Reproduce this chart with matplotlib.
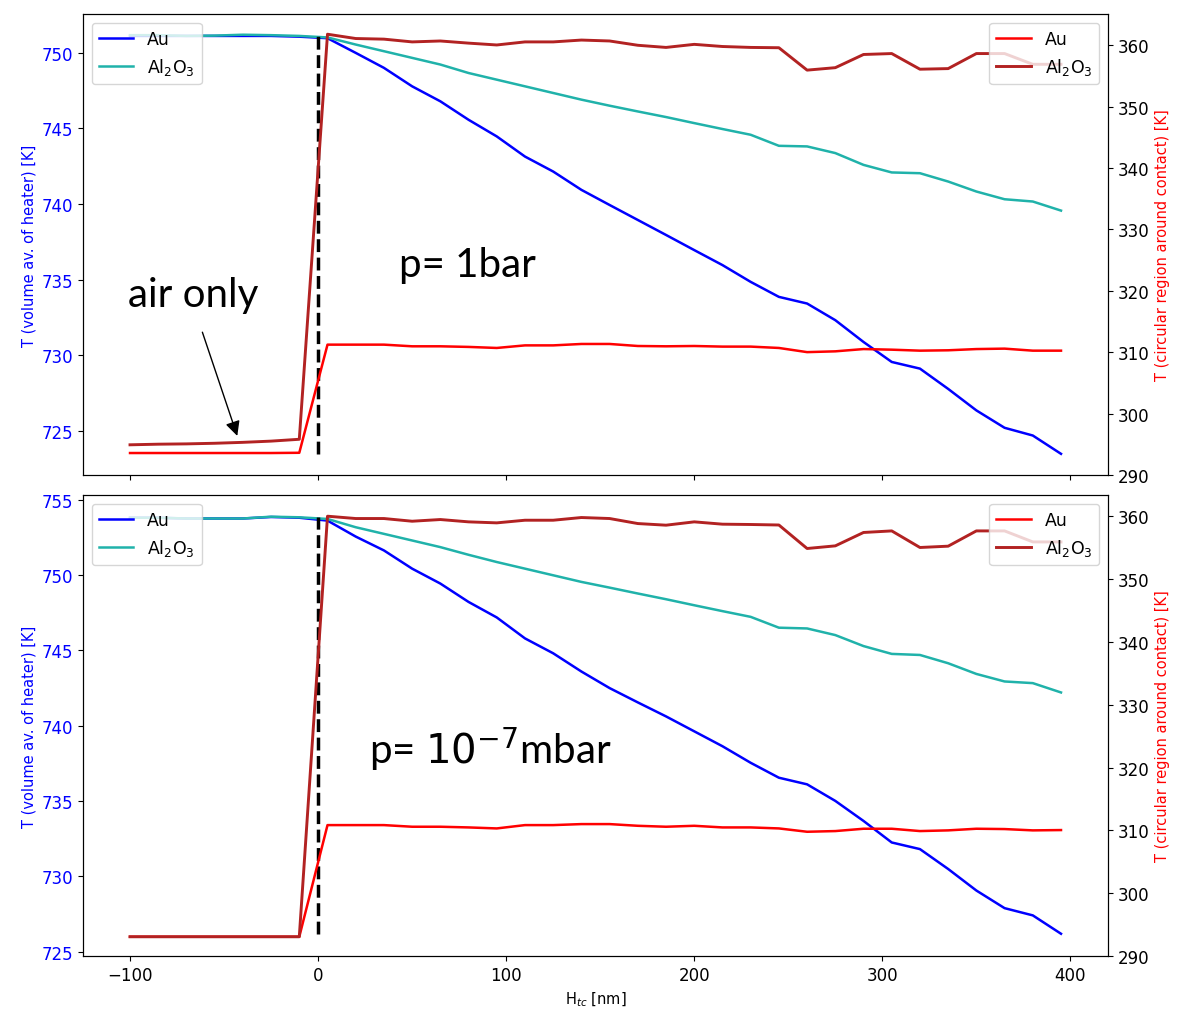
import numpy as np
import matplotlib
matplotlib.use('Agg')
import matplotlib.pyplot as plt

# x positions (nm), spacing 15
h_tc = np.arange(-100, 400, 15)

# ---- p = 1 bar ----
au_heater_1bar = [751.1, 751.1, 751.1, 751.1, 751.1, 751.1, 751.05,
                  750.95, 749.98, 748.99, 747.77, 746.78, 745.56, 744.46, 743.13, 742.14,
                  740.93, 739.93, 738.94, 737.95, 736.95, 735.96, 734.85, 733.86, 733.42,
                  732.32, 730.88, 729.56, 729.12, 727.78, 726.36, 725.21, 724.70, 723.49]
al_heater_1bar = [751.15, 751.15, 751.1, 751.12, 751.18, 751.15, 751.1,
                  751.0, 750.53, 750.09, 749.65, 749.21, 748.65, 748.21, 747.77, 747.33,
                  746.89, 746.49, 746.11, 745.74, 745.34, 744.95, 744.57, 743.84, 743.80,
                  743.36, 742.58, 742.08, 742.03, 741.48, 740.82, 740.31, 740.16, 739.56]
au_contact_1bar = [293.56, 293.56, 293.56, 293.56, 293.56, 293.56, 293.6,
                   311.22, 311.22, 311.22, 310.95, 310.95, 310.85, 310.68, 311.1, 311.1,
                   311.33, 311.33, 311.0, 310.95, 311.0, 310.9, 310.9, 310.68, 310.0,
                   310.13, 310.5, 310.4, 310.24, 310.3, 310.5, 310.57, 310.24, 310.24]
al_contact_1bar = [294.9, 295.0, 295.05, 295.15, 295.3, 295.5, 295.8,
                   361.8, 361.1, 361.0, 360.55, 360.7, 360.35, 360.05, 360.55, 360.55,
                   360.85, 360.7, 360.0, 359.65, 360.15, 359.8, 359.65, 359.6, 355.95,
                   356.35, 358.5, 358.65, 356.1, 356.2, 358.65, 358.65, 356.9, 356.9]

# ---- p = 1e-7 mbar ----
au_heater_vac = [753.8, 753.8, 753.75, 753.75, 753.75, 753.85, 753.8,
                 753.61, 752.55, 751.63, 750.42, 749.43, 748.21, 747.18, 745.79, 744.80,
                 743.59, 742.49, 741.54, 740.61, 739.62, 738.63, 737.53, 736.54, 736.10,
                 735.00, 733.67, 732.24, 731.80, 730.48, 729.05, 727.88, 727.40, 726.18]
al_heater_vac = [753.8, 753.8, 753.75, 753.75, 753.75, 753.87, 753.83,
                 753.72, 753.17, 752.73, 752.29, 751.85, 751.34, 750.86, 750.42, 749.98,
                 749.54, 749.16, 748.77, 748.39, 747.99, 747.60, 747.22, 746.50, 746.45,
                 746.01, 745.28, 744.76, 744.69, 744.14, 743.43, 742.93, 742.82, 742.20]
au_contact_vac = [293.07, 293.07, 293.07, 293.07, 293.07, 293.07, 293.07,
                  310.84, 310.84, 310.84, 310.58, 310.58, 310.47, 310.31, 310.84, 310.84,
                  311.0, 311.0, 310.73, 310.58, 310.73, 310.47, 310.47, 310.31, 309.78,
                  309.89, 310.26, 310.26, 309.89, 310.0, 310.26, 310.21, 310.0, 310.05]
al_contact_vac = [293.07, 293.07, 293.07, 293.07, 293.07, 293.07, 293.07,
                  360.0, 359.63, 359.63, 359.2, 359.47, 359.1, 358.94, 359.36, 359.36,
                  359.79, 359.63, 358.83, 358.57, 359.1, 358.73, 358.68, 358.6, 354.86,
                  355.28, 357.41, 357.66, 355.02, 355.23, 357.66, 357.66, 355.91, 355.9]

panels = [
    (au_heater_1bar, al_heater_1bar, au_contact_1bar, al_contact_1bar,
     (722.1, 752.55), (290.0, 365.1), 'p= 1bar', (43, 736.0)),
    (au_heater_vac, al_heater_vac, au_contact_vac, al_contact_vac,
     (724.7, 755.3), (290.0, 363.35), 'p= $10^{-7}$mbar', (27, 738.5)),
]

fig, axes = plt.subplots(2, 1, figsize=(11.79, 10.12), dpi=100, sharex=True)
plt.subplots_adjust(left=0.0704, right=0.9398, top=0.9852, bottom=0.0543, hspace=0.044)

fs = 12
lab_fs = 10.5
for ax, (au_h, al_h, au_c, al_c, ylim1, ylim2, ptxt, ppos) in zip(axes, panels):
    ax.plot(h_tc, au_h, color='blue', lw=1.8, label='Au')
    ax.plot(h_tc, al_h, color='lightseagreen', lw=1.8, label='Al$_2$O$_3$')
    ax.vlines(0, min(au_h), max(au_h), colors='k', linestyles='dashed', lw=2.5)
    ax.set_ylim(*ylim1)
    ax.set_ylabel('T (volume av. of heater) [K]', color='blue', fontsize=lab_fs)
    ax.tick_params(axis='y', labelcolor='blue', labelsize=fs)
    ax.tick_params(axis='x', labelsize=fs)
    ax.legend(loc='upper left', fontsize=12.5)

    ax2 = ax.twinx()
    ax2.plot(h_tc, au_c, color='red', lw=1.8, label='Au')
    ax2.plot(h_tc, al_c, color='firebrick', lw=2.1, label='Al$_2$O$_3$')
    ax2.set_ylim(*ylim2)
    ax2.set_ylabel('T (circular region around contact) [K]', color='red', fontsize=lab_fs)
    ax2.tick_params(axis='y', labelsize=fs)
    ax2.legend(loc='upper right', fontsize=12.5)

    ax.text(ppos[0], ppos[1], ptxt, fontsize=29, family='Lato', va='center', ha='left')

axes[0].text(-101, 734.0, 'air only', fontsize=29, family='Lato', va='center', ha='left')
axes[0].annotate('', xy=(-42.5, 724.5), xytext=(-62, 731.7),
                 arrowprops=dict(arrowstyle='-|>', color='k', lw=1, mutation_scale=22))

axes[1].set_xticks([-100, 0, 100, 200, 300, 400])
axes[1].set_xlim(-125, 420)
axes[1].set_xlabel('H$_{tc}$ [nm]', fontsize=lab_fs)

plt.savefig('out.png', dpi=100)
